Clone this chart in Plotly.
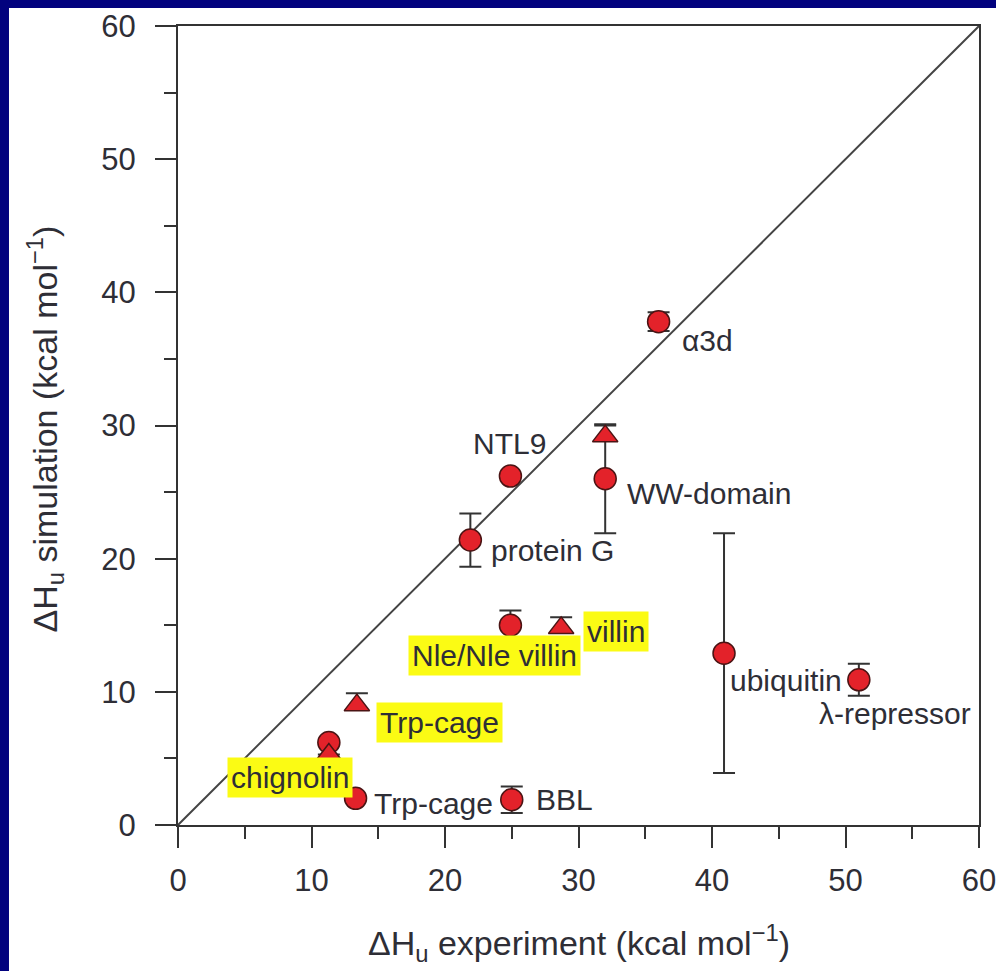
import plotly.graph_objects as go

# Unfolding enthalpy: experiment vs. simulation (kcal/mol)
circle_names = ["α3d", "NTL9", "WW-domain", "protein G", "Nle/Nle villin",
                "chignolin", "Trp-cage", "BBL", "ubiquitin", "λ-repressor"]
circle_exp = [36.0, 24.9, 32.0, 21.9, 24.9, 11.3, 13.3, 25.0, 40.9, 51.0]
circle_sim = [37.8, 26.2, 26.0, 21.4, 15.0, 6.2, 2.0, 1.9, 12.9, 10.9]
circle_err = [0.7, None, 4.1, 2.0, 1.1, None, None, 1.0, 9.0, 1.2]

triangle_names = ["WW-domain", "villin", "Trp-cage", "chignolin"]
triangle_exp = [32.0, 28.7, 13.4, 11.3]
triangle_sim = [29.2, 14.8, 9.0, 5.3]
triangle_err_up = [0.8, 0.8, 0.9, None]
triangle_err_down = [0.3, 0.3, 0.3, None]

diag = [0, 60]
ticks = [0, 10, 20, 30, 40, 50, 60]

FONT = "Liberation Sans, Arial, Helvetica, sans-serif"
TXT = "#2e2e36"
RED = "#e3222a"
EDGE = "#4a1414"
YELLOW = "#fbfb14"

fig = go.Figure()

fig.add_trace(go.Scatter(x=diag, y=diag, mode="lines",
                         line=dict(color="#444444", width=2),
                         hoverinfo="skip", showlegend=False))

fig.add_trace(go.Scatter(
    x=circle_exp, y=circle_sim, mode="markers",
    marker=dict(symbol="circle", size=22, color=RED,
                line=dict(color=EDGE, width=1.5)),
    error_y=dict(type="data", array=circle_err, visible=True,
                 color="#333333", thickness=2, width=11),
    text=circle_names, showlegend=False))

fig.add_trace(go.Scatter(
    x=triangle_exp, y=triangle_sim, mode="markers",
    marker=dict(symbol="triangle-up", size=22, color=RED,
                line=dict(color=EDGE, width=1.5)),
    error_y=dict(type="data", symmetric=False, array=triangle_err_up,
                 arrayminus=triangle_err_down, visible=True,
                 color="#333333", thickness=2, width=11),
    text=triangle_names, showlegend=False))

# point labels: (label, x, y, anchor, xshift, yshift, highlighted)
labels = [
    ("α3d", circle_exp[0], circle_sim[0], "left", 21, -19, False),
    ("NTL9", circle_exp[1], circle_sim[1], "center", -1, 33, False),
    ("WW-domain", circle_exp[2], circle_sim[2], "left", 20, -15, False),
    ("protein G", circle_exp[3], circle_sim[3], "left", 19, -10, False),
    ("Nle/Nle villin", circle_exp[4], circle_sim[4], "center", -16, -30, True),
    ("villin", triangle_exp[1], triangle_sim[1], "left", 22, -4, True),
    ("Trp-cage", triangle_exp[2], triangle_sim[2], "left", 19, -17, True),
    ("chignolin", triangle_exp[3], triangle_sim[3], "center", -39, -23, True),
    ("Trp-cage", circle_exp[6], circle_sim[6], "left", 16, -5, False),
    ("BBL", circle_exp[7], circle_sim[7], "left", 22, 0, False),
    ("ubiquitin", circle_exp[8], circle_sim[8], "left", 4, -27, False),
    ("λ-repressor", circle_exp[9], circle_sim[9], "center", 36, -34, False),
]
for text, x, y, anchor, dx, dy, hl in labels:
    fig.add_annotation(
        x=x, y=y, xref="x", yref="y", text=text, showarrow=False,
        xanchor=anchor, yanchor="middle", xshift=dx, yshift=dy,
        font=dict(family=FONT, size=30, color=TXT),
        bgcolor=YELLOW if hl else "rgba(0,0,0,0)",
        borderpad=3 if hl else 1)

# axis titles
fig.add_annotation(
    x=0.5, y=-0.148, xref="paper", yref="paper", showarrow=False,
    text="ΔH<sub>u</sub> experiment (kcal mol<sup>−1</sup>)",
    xanchor="center", yanchor="middle",
    font=dict(family=FONT, size=34, color=TXT))
fig.add_annotation(
    x=-0.166, y=0.495, xref="paper", yref="paper", showarrow=False,
    text="ΔH<sub>u</sub> simulation (kcal mol<sup>−1</sup>)", textangle=-90,
    xanchor="center", yanchor="middle",
    font=dict(family=FONT, size=34, color=TXT))

# white panel on the navy slide background
fig.add_shape(type="rect", xref="paper", yref="paper",
              x0=-0.211, x1=1.05, y0=-0.2, y1=1.0225,
              fillcolor="white", line=dict(width=0), layer="below")

axis_common = dict(
    range=[0, 60], tickvals=ticks, showgrid=False, zeroline=False,
    showline=True, linecolor="#333333", linewidth=2, mirror=True,
    ticks="outside", ticklen=21, tickwidth=2, tickcolor="#333333",
    minor=dict(dtick=5, ticks="outside", ticklen=12, tickwidth=2,
               tickcolor="#333333", showgrid=False),
    tickfont=dict(family=FONT, size=31, color=TXT),
    ticklabeloverflow="allow", automargin=False,
)

fig.update_layout(
    width=996, height=971,
    margin=dict(l=178, r=17, t=26, b=146, autoexpand=False),
    paper_bgcolor="#02027e", plot_bgcolor="white",
    xaxis=dict(**axis_common, ticklabelstandoff=6),
    yaxis=dict(**axis_common, ticklabelstandoff=13),
)

fig.write_html("out.html")
